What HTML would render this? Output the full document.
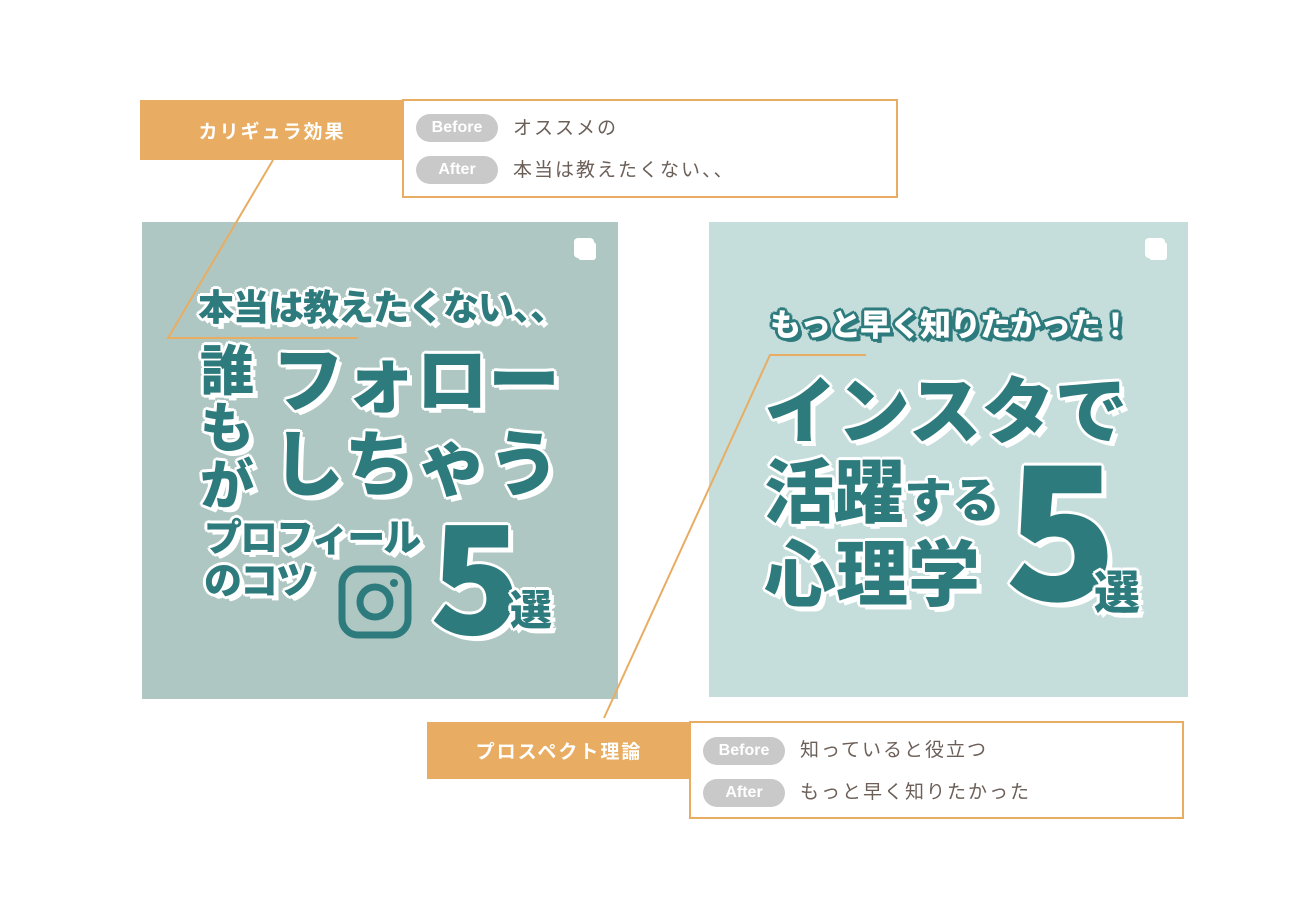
<!DOCTYPE html>
<html><head><meta charset="utf-8"><style>
body{margin:0;width:1300px;height:919px;background:#fff;position:relative;overflow:hidden;font-family:"Liberation Sans","Noto Sans CJK JP",sans-serif}
.a{position:absolute;line-height:1;white-space:nowrap}
.t{color:#2e7b7e;font-weight:900;text-shadow:3px 0 0 #fff,-3px 0 0 #fff,0 3px 0 #fff,0 -3px 0 #fff,2px 2px 0 #fff,-2px -2px 0 #fff,2px -2px 0 #fff,-2px 2px 0 #fff,5px 5px 0 #fff}
.w{color:#fff;font-weight:900;text-shadow:3px 0 0 #2e7b7e,-3px 0 0 #2e7b7e,0 3px 0 #2e7b7e,0 -3px 0 #2e7b7e,2px 2px 0 #2e7b7e,-2px -2px 0 #2e7b7e,2px -2px 0 #2e7b7e,-2px 2px 0 #2e7b7e,4px 4px 0 #2e7b7e}
.n{font-family:"Noto Sans CJK JP",sans-serif;font-weight:900}
.lab{position:absolute;background:#e8ad62;color:#fff;font-size:19px;font-weight:bold;display:flex;align-items:center;justify-content:center;letter-spacing:2px}
.box{position:absolute;border:2px solid #e8ad62;background:#fff;box-sizing:border-box}
.pill{position:absolute;background:#c9c9c9;color:#fff;border-radius:14px;width:82px;height:28px;font-size:16px;font-weight:bold;display:flex;align-items:center;justify-content:center}
.bt{position:absolute;color:#6b5f58;font-size:19px;letter-spacing:2px;line-height:1}
</style></head><body>
<div class="lab" style="left:140px;top:100px;width:264px;height:60px">カリギュラ効果</div>
<div class="box" style="left:402px;top:99px;width:496px;height:99px">
<div class="pill" style="left:12px;top:13px">Before</div>
<div class="bt" style="left:109px;top:18px">オススメの</div>
<div class="pill" style="left:12px;top:55px">After</div>
<div class="bt" style="left:109px;top:60px">本当は教えたくない、、</div>
</div>
<div class="a" style="left:142px;top:222px;width:476px;height:477px;background:#aec7c3"></div>
<div class="a" style="left:709px;top:222px;width:479px;height:475px;background:#c5dedb"></div>
<div class="a" style="left:574px;top:238px;width:20px;height:20px;background:#fff;border-radius:4px;box-shadow:3px 3px 0 -1px #fff"></div>
<div class="a" style="left:1145px;top:238px;width:20px;height:20px;background:#fff;border-radius:4px;box-shadow:3px 3px 0 -1px #fff"></div>

<div class="a t" style="left:198px;top:290px;font-size:36px;letter-spacing:-1px">本当は教えたくない、、</div>
<div class="a t" style="left:200px;top:344px;font-size:54px;line-height:57px;width:60px">誰<br>も<br>が</div>
<div class="a t" style="left:272px;top:346px;font-size:72px">フォロー</div>
<div class="a t" style="left:272px;top:430px;font-size:72px">しちゃう</div>
<div class="a t" style="left:204px;top:520px;font-size:38px;letter-spacing:-2px">プロフィール</div>
<div class="a t" style="left:204px;top:563px;font-size:38px;letter-spacing:-2px">のコツ</div>
<svg class="a" style="left:338px;top:565px" width="75" height="75" viewBox="0 0 75 75"><rect x="4" y="4" width="66" height="66" rx="16" fill="none" stroke="#2e7b7e" stroke-width="7"/><circle cx="37" cy="37" r="15" fill="none" stroke="#2e7b7e" stroke-width="7"/><circle cx="56" cy="18" r="4" fill="#2e7b7e"/></svg>
<div class="a t n" style="left:430px;top:495px;font-size:150px;line-height:150px">5</div>
<div class="a t" style="left:510px;top:590px;font-size:42px">選</div>

<div class="a w" style="left:770px;top:310px;font-size:31px;letter-spacing:-1px">もっと早く知りたかった！</div>
<div class="a t" style="left:764px;top:376px;font-size:73px">インスタで</div>
<div class="a t" style="left:764px;top:458px;font-size:70px">活躍<span style="font-size:48px">する</span></div>
<div class="a t" style="left:764px;top:540px;font-size:72px">心理学</div>
<div class="a t n" style="left:1005px;top:428px;font-size:185px;line-height:185px">5</div>
<div class="a t" style="left:1094px;top:570px;font-size:46px">選</div>

<svg class="a" style="left:0;top:0" width="1300" height="919"><polyline points="273,160 168,338 358,338" fill="none" stroke="#e8ad62" stroke-width="2"/><polyline points="866,355 770,355 604,718" fill="none" stroke="#e8ad62" stroke-width="2"/></svg>

<div class="lab" style="left:427px;top:722px;width:264px;height:57px">プロスペクト理論</div>
<div class="box" style="left:689px;top:721px;width:495px;height:98px">
<div class="pill" style="left:12px;top:14px">Before</div>
<div class="bt" style="left:109px;top:18px">知っていると役立つ</div>
<div class="pill" style="left:12px;top:56px">After</div>
<div class="bt" style="left:109px;top:60px">もっと早く知りたかった</div>
</div>
</body></html>
